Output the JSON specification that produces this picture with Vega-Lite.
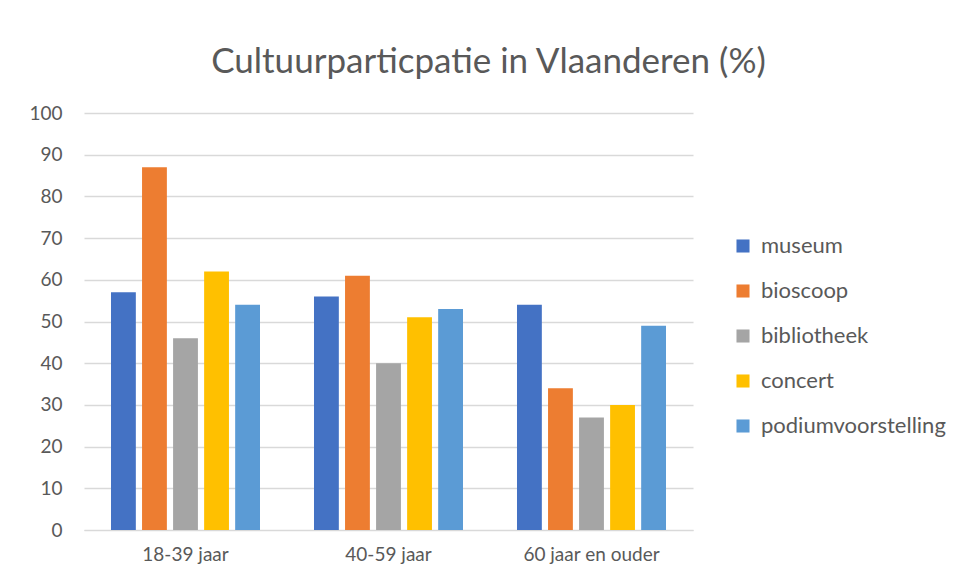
{
  "$schema": "https://vega.github.io/schema/vega-lite/v6.json",
  "width": 609,
  "height": 417,
  "autosize": "none",
  "padding": {"left": 84, "top": 113, "right": 263, "bottom": 53},
  "background": "white",
  "title": {
    "text": "Cultuurparticpatie in Vlaanderen (%)",
    "fontSize": 35,
    "font": "Lato",
    "fontWeight": "normal",
    "color": "#595959",
    "anchor": "middle",
    "dx": 100,
    "offset": 24
  },
  "data": {
    "values": [
      {"groep": "18-39 jaar", "type": "museum", "pct": 57},
      {"groep": "18-39 jaar", "type": "bioscoop", "pct": 87},
      {"groep": "18-39 jaar", "type": "bibliotheek", "pct": 46},
      {"groep": "18-39 jaar", "type": "concert", "pct": 62},
      {"groep": "18-39 jaar", "type": "podiumvoorstelling", "pct": 54},
      {"groep": "40-59 jaar", "type": "museum", "pct": 56},
      {"groep": "40-59 jaar", "type": "bioscoop", "pct": 61},
      {"groep": "40-59 jaar", "type": "bibliotheek", "pct": 40},
      {"groep": "40-59 jaar", "type": "concert", "pct": 51},
      {"groep": "40-59 jaar", "type": "podiumvoorstelling", "pct": 53},
      {"groep": "60 jaar en ouder", "type": "museum", "pct": 54},
      {"groep": "60 jaar en ouder", "type": "bioscoop", "pct": 34},
      {"groep": "60 jaar en ouder", "type": "bibliotheek", "pct": 27},
      {"groep": "60 jaar en ouder", "type": "concert", "pct": 30},
      {"groep": "60 jaar en ouder", "type": "podiumvoorstelling", "pct": 49}
    ]
  },
  "mark": {"type": "bar"},
  "encoding": {
    "x": {
      "field": "groep",
      "type": "nominal",
      "sort": null,
      "scale": {"paddingInner": 0.266, "paddingOuter": 0.133},
      "axis": {
        "title": null,
        "labelAngle": 0,
        "labelFont": "Lato",
        "labelFontSize": 19,
        "labelColor": "#595959",
        "labelPadding": 15,
        "ticks": false,
        "domainColor": "#d9d9d9",
        "domainWidth": 1
      }
    },
    "xOffset": {
      "field": "type",
      "type": "nominal",
      "sort": ["museum", "bioscoop", "bibliotheek", "concert", "podiumvoorstelling"],
      "scale": {"paddingInner": 0.2, "paddingOuter": 0}
    },
    "y": {
      "field": "pct",
      "type": "quantitative",
      "scale": {"domain": [0, 100]},
      "axis": {
        "title": null,
        "values": [0, 10, 20, 30, 40, 50, 60, 70, 80, 90, 100],
        "labelFont": "Lato",
        "labelFontSize": 19,
        "labelColor": "#595959",
        "labelPadding": 22,
        "ticks": false,
        "domain": false,
        "gridColor": "#d9d9d9",
        "gridWidth": 1.5
      }
    },
    "color": {
      "field": "type",
      "type": "nominal",
      "sort": ["museum", "bioscoop", "bibliotheek", "concert", "podiumvoorstelling"],
      "scale": {
        "domain": ["museum", "bioscoop", "bibliotheek", "concert", "podiumvoorstelling"],
        "range": ["#4472C4", "#ED7D31", "#A5A5A5", "#FFC000", "#5B9BD5"]
      },
      "legend": {
        "title": null,
        "orient": "none",
        "legendX": 648,
        "legendY": 122,
        "symbolType": "square",
        "symbolSize": 170,
        "symbolStrokeWidth": 0,
        "labelFont": "Lato",
        "labelFontSize": 22,
        "labelLimit": 400,
        "labelColor": "#595959",
        "labelOffset": 7,
        "rowPadding": 23
      }
    }
  },
  "config": {"view": {"stroke": null}}
}
